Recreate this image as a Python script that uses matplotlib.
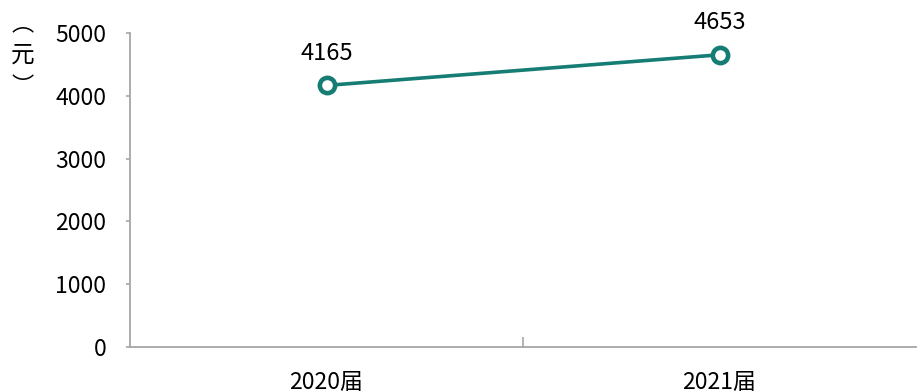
import matplotlib
matplotlib.use("Agg")
from matplotlib import pyplot as plt

plt.rcParams['font.family'] = ['Noto Sans CJK SC', 'DejaVu Sans']

years = ['2020届', '2021届']
salary = [4165, 4653]
teal = '#167d74'

fig = plt.figure(figsize=(9.18, 3.92), dpi=100)
ax = fig.add_axes([130/918, 45/392, 786/918, 314/392])

x = list(range(len(years)))
ax.plot(x, salary, color=teal, lw=2.6, marker='o', ms=11, mfc='white', mec=teal, mew=3.3, zorder=3)
for xi, v in zip(x, salary):
    ax.annotate(f'{v}', xy=(xi, v), xytext=(0, 23), textcoords='offset points',
                ha='center', va='center', fontsize=17)

ax.set_xlim(-0.5, 1.5)
ax.set_ylim(0, 5000)
ax.set_yticks([0, 1000, 2000, 3000, 4000, 5000])
ax.set_xticks(x)
ax.set_xticklabels(years)
ax.set_xticks([0.5], minor=True)

for s in ['top', 'right']:
    ax.spines[s].set_visible(False)
for s in ['left', 'bottom']:
    ax.spines[s].set_color('#a6a6a6')
    ax.spines[s].set_linewidth(1.3)

ax.tick_params(axis='y', length=3, width=1.2, color='#a6a6a6', pad=14, labelsize=16.5)
ax.tick_params(axis='x', which='major', length=0, pad=17, labelsize=16.5)
ax.tick_params(axis='x', which='minor', direction='in', length=7, width=1.2, color='#a6a6a6')

# vertical unit label (vertical-form brackets sit off-centre in their em box)
fig.text(23/918, 1 - 24/392, '︵', ha='center', va='center', fontsize=16)
fig.text(23/918, 1 - 55/392, '元', ha='center', va='center', fontsize=17)
fig.text(23/918, 1 - 87/392, '︶', ha='center', va='center', fontsize=16)

fig.savefig('out.png', dpi=100)
